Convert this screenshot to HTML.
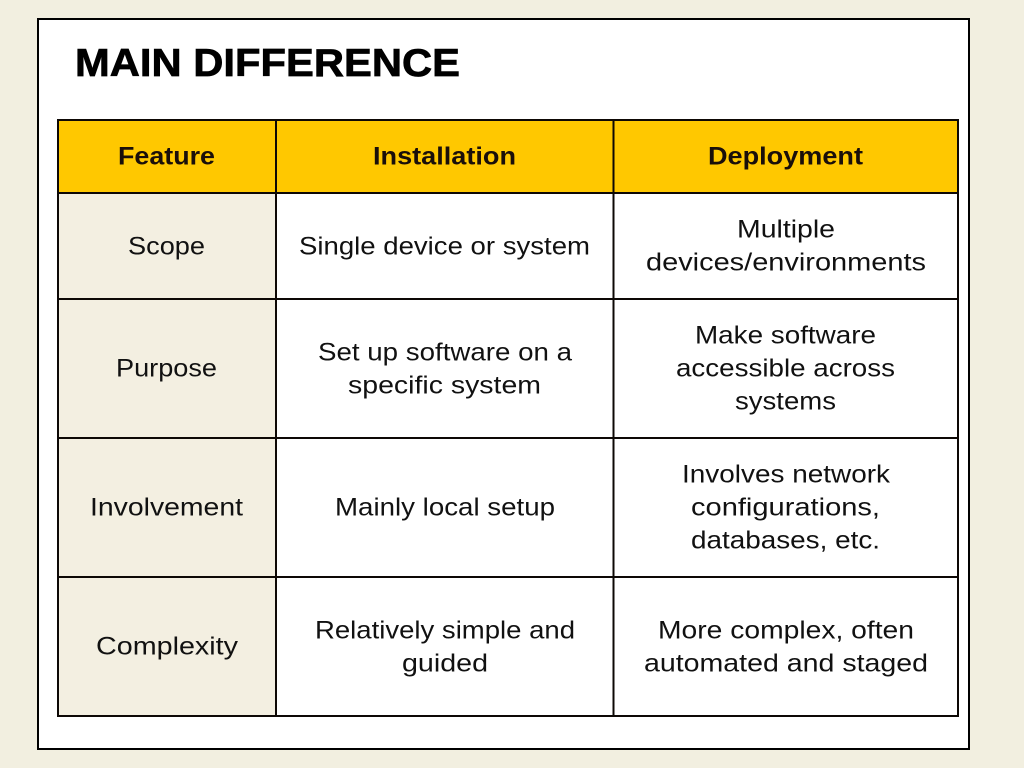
<!DOCTYPE html>
<html lang="en">
<head>
<meta charset="utf-8">
<title>Main Difference</title>
<style>
html,body{margin:0;padding:0;width:1024px;height:768px;overflow:hidden;background:#f2efe0}
svg{display:block}
text{font-family:"Liberation Sans",sans-serif;fill:#111}
.t{font-size:25px}
.h{font-size:25px;font-weight:bold;fill:#1a0f0a}
.title{font-size:39px;font-weight:bold;fill:#000;stroke:#000;stroke-width:.7px}
</style>
</head>
<body>
<svg width="1024" height="768" viewBox="0 0 1024 768" xmlns="http://www.w3.org/2000/svg">
<rect width="1024" height="768" fill="#f2efe0"/>
<rect x="38" y="19" width="931" height="730" fill="#fff" stroke="#000" stroke-width="2"/>
<text class="title" x="75" y="76" textLength="385" lengthAdjust="spacingAndGlyphs">MAIN DIFFERENCE</text>

<rect x="58" y="120" width="900" height="73" fill="#ffc800"/>
<rect x="58" y="193" width="218" height="523" fill="#f3efe1"/>
<g fill="none" stroke="#0d0805" stroke-width="2">
<rect x="58" y="120" width="900" height="596"/>
<path d="M276 120V716M613.500 120V716M58 193H958M58 299H958M58 438H958M58 577H958"/>
</g>

<g transform="translate(0 .5)">
<text class="h" x="118" y="164" textLength="97" lengthAdjust="spacingAndGlyphs">Feature</text>
<text class="h" x="373" y="164" textLength="143" lengthAdjust="spacingAndGlyphs">Installation</text>
<text class="h" x="708" y="164" textLength="155" lengthAdjust="spacingAndGlyphs">Deployment</text>

<text class="t" x="128" y="254" textLength="77" lengthAdjust="spacingAndGlyphs">Scope</text>
<text class="t" x="299" y="254" textLength="291" lengthAdjust="spacingAndGlyphs">Single device or system</text>
<text class="t" x="737" y="237" textLength="98" lengthAdjust="spacingAndGlyphs">Multiple</text>
<text class="t" x="646" y="270" textLength="280" lengthAdjust="spacingAndGlyphs">devices/environments</text>

<text class="t" x="116" y="376" textLength="101" lengthAdjust="spacingAndGlyphs">Purpose</text>
<text class="t" x="318" y="360" textLength="254" lengthAdjust="spacingAndGlyphs">Set up software on a</text>
<text class="t" x="348" y="393" textLength="193" lengthAdjust="spacingAndGlyphs">specific system</text>
<text class="t" x="695" y="343" textLength="181" lengthAdjust="spacingAndGlyphs">Make software</text>
<text class="t" x="676" y="376" textLength="219" lengthAdjust="spacingAndGlyphs">accessible across</text>
<text class="t" x="735" y="409" textLength="101" lengthAdjust="spacingAndGlyphs">systems</text>

<text class="t" x="90" y="515" textLength="153" lengthAdjust="spacingAndGlyphs">Involvement</text>
<text class="t" x="335" y="515" textLength="220" lengthAdjust="spacingAndGlyphs">Mainly local setup</text>
<text class="t" x="682" y="482" textLength="208" lengthAdjust="spacingAndGlyphs">Involves network</text>
<text class="t" x="691" y="515" textLength="189" lengthAdjust="spacingAndGlyphs">configurations,</text>
<text class="t" x="691" y="548" textLength="189" lengthAdjust="spacingAndGlyphs">databases, etc.</text>

<text class="t" x="96" y="654" textLength="142" lengthAdjust="spacingAndGlyphs">Complexity</text>
<text class="t" x="315" y="638" textLength="260" lengthAdjust="spacingAndGlyphs">Relatively simple and</text>
<text class="t" x="402" y="671" textLength="86" lengthAdjust="spacingAndGlyphs">guided</text>
<text class="t" x="658" y="638" textLength="256" lengthAdjust="spacingAndGlyphs">More complex, often</text>
<text class="t" x="644" y="671" textLength="284" lengthAdjust="spacingAndGlyphs">automated and staged</text>
</g>
</svg>
</body>
</html>
